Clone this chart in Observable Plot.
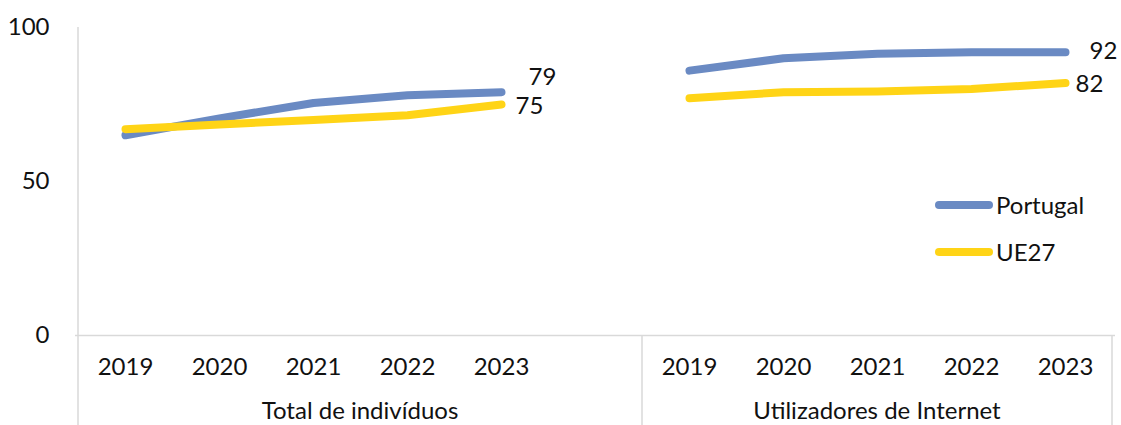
<!DOCTYPE html>
<html>
<head>
<meta charset="utf-8">
<script src="https://cdn.jsdelivr.net/npm/d3@7"></script>
<script src="https://cdn.jsdelivr.net/npm/@observablehq/plot@0.6"></script>
<style>
  html, body { margin: 0; padding: 0; background: #fff; }
  #wrap { position: relative; width: 1121px; height: 425px; overflow: hidden; font-family: Lato, "Open Sans", sans-serif; color: #111; }
  #legend { position: absolute; left: 935px; top: 181px; font-size: 24px; }
  #legend .item { display: flex; align-items: center; height: 47px; }
  #legend .sw { display: inline-block; width: 58px; height: 8px; border-radius: 4px; margin-right: 3px; }
</style>
</head>
<body>
<div id="wrap"></div>
<script>
const years = ["2019", "2020", "2021", "2022", "2023"];
const groupKeys = ["T", "U"];
const groupLabels = ["Total de indivíduos", "Utilizadores de Internet"];
const seriesNames = ["Portugal", "UE27"];
const seriesColors = ["#6a8ac3", "#ffd416"];
const portugalTotal = [65, 70.5, 75.5, 78, 79];
const ue27Total = [67, 68.5, 70, 71.5, 75];
const portugalInternet = [86, 90, 91.5, 92, 92];
const ue27Internet = [77, 79, 79.2, 80, 82];
const yTicks = [0, 50, 100];

// category domain: left group has a trailing blank category
const xDomain = [
  ...years.map(y => "T|" + y), "T|",
  ...years.map(y => "U|" + y)
];

const rows = [];
const pushSeries = (group, series, vals) =>
  vals.forEach((v, i) => rows.push({key: group + "|" + years[i], group, series, year: years[i], value: v}));
pushSeries("T", "Portugal", portugalTotal);
pushSeries("T", "UE27", ue27Total);
pushSeries("U", "Portugal", portugalInternet);
pushSeries("U", "UE27", ue27Internet);

const last = (g, s) => rows.filter(d => d.group === g && d.series === s && d.year === "2023");

const gridColor = "#d9d9d9";
const FS = 24;

function structure(index, scales, values, dimensions) {
  const x = scales.x, y = scales.y;
  const bw = x.bandwidth();
  const g = d3.create("svg:g");
  const bottom = dimensions.height;
  const left = x(xDomain[0]);
  const sep = x("U|" + years[0]);
  const right = x("U|" + years[years.length - 1]) + bw;
  g.append("line").attr("x1", left).attr("x2", left).attr("y1", y(100)).attr("y2", bottom)
    .attr("stroke", gridColor).attr("stroke-width", 1.5);
  [sep, right].forEach(px => g.append("line").attr("x1", px).attr("x2", px).attr("y1", y(0)).attr("y2", bottom)
    .attr("stroke", gridColor).attr("stroke-width", 1.5));
  const spans = [[left, sep], [sep, right]];
  groupLabels.forEach((lab, i) => {
    g.append("text").attr("x", (spans[i][0] + spans[i][1]) / 2).attr("y", bottom - 6)
      .attr("text-anchor", "middle").attr("fill", "currentColor").attr("font-size", FS).text(lab);
  });
  return g.node();
}

const fmt = d => d3.format("d")(d.value);

const plot = Plot.plot({
  width: 1121,
  height: 425,
  marginLeft: 75,
  marginRight: 6,
  marginTop: 27,
  marginBottom: 90,
  style: {fontFamily: "Lato, 'Open Sans', sans-serif", fontSize: FS + "px", color: "#111", background: "#fff", overflow: "visible"},
  x: {type: "band", domain: xDomain, padding: 0},
  y: {domain: [0, 100]},
  color: {domain: seriesNames, range: seriesColors},
  marks: [
    Plot.ruleY([0], {stroke: gridColor, strokeWidth: 1.5}),
    structure,
    Plot.axisY({ticks: yTicks, tickSize: 0, tickPadding: 26, label: null, fontSize: FS}),
    Plot.axisX({tickSize: 0, tickPadding: 22, label: null, fontSize: FS,
      tickFormat: d => d.split("|")[1]}),
    Plot.line(rows, {x: "key", y: "value", z: d => d.series + d.group, stroke: "series",
      strokeWidth: 8, strokeLinecap: "round", strokeLinejoin: "round", curve: "linear"}),
    Plot.text(last("T", "Portugal"), {x: "key", y: "value", text: fmt, textAnchor: "start", dx: 27, dy: -15, fontSize: FS, fill: "#111"}),
    Plot.text(last("T", "UE27"), {x: "key", y: "value", text: fmt, textAnchor: "start", dx: 14, dy: 2, fontSize: FS, fill: "#111"}),
    Plot.text(last("U", "Portugal"), {x: "key", y: "value", text: fmt, textAnchor: "start", dx: 24, dy: -1, fontSize: FS, fill: "#111"}),
    Plot.text(last("U", "UE27"), {x: "key", y: "value", text: fmt, textAnchor: "start", dx: 10, dy: 1, fontSize: FS, fill: "#111"})
  ]
});

const wrap = document.getElementById("wrap");
wrap.appendChild(plot);

const legend = document.createElement("div");
legend.id = "legend";
seriesNames.forEach((s, i) => {
  const item = document.createElement("div");
  item.className = "item";
  const sw = document.createElement("span");
  sw.className = "sw";
  sw.style.background = seriesColors[i];
  const lab = document.createElement("span");
  lab.textContent = s;
  item.appendChild(sw);
  item.appendChild(lab);
  legend.appendChild(item);
});
wrap.appendChild(legend);
</script>
</body>
</html>
